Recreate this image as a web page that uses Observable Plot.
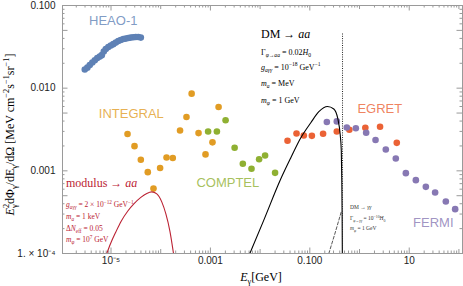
<!DOCTYPE html>
<html><head><meta charset="utf-8">
<script src="https://cdn.jsdelivr.net/npm/d3@7"></script>
<script src="https://cdn.jsdelivr.net/npm/@observablehq/plot@0.6"></script>
<style>html,body{margin:0;padding:0;background:#fff}#chart svg{display:block}</style>
</head><body><div id="chart"></div>
<script>
// ---- data (energy in GeV, flux in MeV cm^-2 s^-1 sr^-1) ----
const heaoE = [2.97e-6,3.34e-6,3.74e-6,4.21e-6,4.72e-6,5.30e-6,5.95e-6,6.53e-6,7.16e-6,7.85e-6,8.83e-6,9.91e-6,1.11e-5,1.25e-5,1.40e-5,1.57e-5,1.77e-5,1.99e-5,2.23e-5,2.50e-5,2.81e-5,3.15e-5,3.54e-5,3.98e-5];
const heaoF = [0.0168,0.0177,0.0190,0.0204,0.0218,0.0231,0.0241,0.0251,0.0277,0.0297,0.0314,0.0328,0.0341,0.0356,0.0372,0.0382,0.0393,0.0398,0.0404,0.0409,0.0413,0.0415,0.0415,0.0409];
const integralE = [2.15e-5,2.97e-5,3.98e-5,5.50e-5,7.16e-5,9.73e-5,1.31e-4,1.75e-4,2.45e-4,3.30e-4,4.19e-4,5.77e-4,7.97e-4,1.10e-3,1.46e-3];
const integralF = [2.79e-3,1.99e-3,1.36e-3,9.64e-4,6.10e-4,1.08e-3,1.45e-3,1.43e-3,3.08e-3,4.48e-3,8.58e-3,2.86e-3,1.58e-3,2.21e-3,5.91e-3];
const comptelE = [8.99e-4,1.35e-3,2.02e-3,3.07e-3,4.49e-3,6.71e-3,9.55e-3,1.26e-2,2.00e-2];
const comptelF = [2.99e-3,2.99e-3,4.09e-3,1.90e-3,1.22e-3,1.06e-3,1.38e-3,1.53e-3,9.46e-4];
const egretE = [3.56e-2,5.40e-2,7.57e-2,0.110,0.185,0.349,0.624,1.31,2.59,5.62];
const egretF = [2.31e-3,2.83e-3,2.68e-3,2.65e-3,2.81e-3,2.99e-3,3.14e-3,3.32e-3,3.41e-3,2.18e-3];
const fermiE = [0.220,0.349,0.555,0.843,1.36,2.10,3.38,5.37,8.55,13.6,21.6,33.2,54.5,84.0];
const fermiF = [3.89e-3,3.96e-3,3.35e-3,3.27e-3,2.89e-3,2.36e-3,1.81e-3,1.41e-3,9.38e-4,7.71e-4,6.40e-4,5.46e-4,4.25e-4,3.44e-4];

const modulusE = [8.22e-6,9.91e-6,1.25e-5,1.57e-5,2.18e-5,2.88e-5,3.98e-5,5.25e-5,6.62e-5,8.35e-5,1.05e-4,1.27e-4,1.53e-4,1.81e-4];
const modulusF = [1.0e-4,1.34e-4,1.82e-4,2.41e-4,3.27e-4,3.98e-4,4.77e-4,5.33e-4,5.56e-4,5.26e-4,4.21e-4,3.01e-4,1.87e-4,1.0e-4];
const dmE = [6.21e-3,1.17e-2,2.61e-2,4.15e-2,6.59e-2,0.1047,0.152,0.227,0.304,0.366,0.407,0.430,0.440,0.447,0.451];
const dmF = [1.0e-4,2.48e-4,8.00e-4,1.44e-3,2.51e-3,3.82e-3,5.19e-3,6.01e-3,5.60e-3,4.27e-3,2.81e-3,1.75e-3,7.57e-4,2.85e-4,1.0e-4];
const gammaE = [0.241,0.318,0.430];
const gammaF = [1.0e-4,1.72e-4,3.2e-4];
const gammaLineE = [0.455];
const gammaLineTop = [0.0458];

const labelNames = ["HEAO-1","INTEGRAL","COMPTEL","EGRET","FERMI"];
const labelE = [1.11e-5,2.56e-5,2.24e-3,2.56,30.5];
const labelF = [0.0658,4.91e-3,7.16e-4,5.65e-3,2.34e-4];

const yTickValues = [1e-4,5e-4,1e-3,5e-3,1e-2,5e-2,1e-1];
const yTickLabels = ["1. \u00d7 10\u207b\u2074","5. \u00d7 10\u207b\u2074","0.001","0.005","0.010","0.050","0.100"];
const xTickValues = [1e-5,1e-3,1e-1,10];
const xTickLabels = ["10\u207b\u2075","0.001","0.100","10"];

// ---- styles ----
const C = {blue:"#5E81B5", orange:"#E19C24", green:"#8FB032", red:"#EB6235", purple:"#8778B3"};
const labelColors = [C.blue, C.orange, C.green, C.red, C.purple];
const curveRed = "#bb2233";
const frameGray = "#9a9a9a";
const W = 463, H = 286, mL = 62, mR = 1, mT = 5, mB = 33;
const FH = H - mT - mB, FW = W - mL - mR;

// tick positions
const xDecades = [1e-4,1e-2,1,100];
const xMinor = [], yMinor = [];
for (let k = -6; k <= 2; k++) for (let m = 2; m <= 9; m++) xMinor.push(m * 10 ** k);
for (let k = -4; k <= -2; k++) for (let m = 2; m <= 9; m++) if (m !== 5) yMinor.push(m * 10 ** k);
const xDom = [10 ** -5.976, 10 ** 2.072];
const xMinorIn = xMinor.filter(v => v > xDom[0] && v < xDom[1]);

const pts = (E, F) => E.map((e, i) => ({e, f: F[i]}));
const xMap = new Map(xTickValues.map((v, i) => [v, xTickLabels[i]]));
const yMap = new Map(yTickValues.map((v, i) => [v, yTickLabels[i]]));

const tickB = (vals, len) => Plot.tickX(vals, {x: d => d, insetTop: FH - len, stroke: frameGray});
const tickT = (vals, len) => Plot.tickX(vals, {x: d => d, insetBottom: FH - len, stroke: frameGray});
const tickL = (vals, len) => Plot.tickY(vals, {y: d => d, insetRight: FW - len, stroke: frameGray});
const tickR = (vals, len) => Plot.tickY(vals, {y: d => d, insetLeft: FW - len, stroke: frameGray});

const chart = Plot.plot({
  width: W, height: H, marginLeft: mL, marginRight: mR, marginTop: mT, marginBottom: mB,
  style: {fontFamily: "'Liberation Sans', Arial, sans-serif", fontSize: "10px", color: "#222", background: "#fff"},
  x: {type: "log", domain: xDom, label: null},
  y: {type: "log", domain: [1e-4, 0.1], label: null},
  marks: [
    tickB(xMinorIn, 2.5), tickT(xMinorIn, 2.5), tickB(xDecades, 4), tickT(xDecades, 4), tickB(xTickValues, 5.5), tickT(xTickValues, 5.5),
    tickL(yMinor, 2.5), tickR(yMinor, 2.5), tickL(yTickValues, 5.5), tickR(yTickValues, 5.5),
    Plot.frame({stroke: frameGray}),
    Plot.axisX(xTickValues, {tickSize: 0, tickPadding: 3, tickFormat: d => xMap.get(d), fontSize: 10, label: null}),
    Plot.axisY(yTickValues, {tickSize: 0, tickPadding: 7, tickFormat: d => yMap.get(d), fontSize: 10, label: null}),
    Plot.dot(pts(heaoE, heaoF), {x: "e", y: "f", r: 3.3, fill: C.blue}),
    Plot.dot(pts(integralE, integralF), {x: "e", y: "f", r: 3.3, fill: C.orange}),
    Plot.dot(pts(comptelE, comptelF), {x: "e", y: "f", r: 3.3, fill: C.green}),
    Plot.dot(pts(egretE, egretF), {x: "e", y: "f", r: 3.3, fill: C.red}),
    Plot.dot(pts(fermiE, fermiF), {x: "e", y: "f", r: 3.3, fill: C.purple}),
    Plot.line(pts(modulusE, modulusF), {x: "e", y: "f", stroke: curveRed, strokeWidth: 1.1, curve: "monotone-x", clip: true}),
    Plot.line(pts(dmE, dmF), {x: "e", y: "f", stroke: "#000", strokeWidth: 1.1, curve: "monotone-x", clip: true}),
    Plot.line(pts(gammaE, gammaF), {x: "e", y: "f", stroke: "#444", strokeWidth: 0.9, strokeDasharray: "3,2", clip: true}),
    Plot.ruleX(gammaLineE, {x: d => d, y1: 1e-4, y2: (d, i) => gammaLineTop[i], stroke: "#222", strokeWidth: 1, strokeDasharray: "1,1.3"}),
    Plot.text(labelNames, {x: (d, i) => labelE[i], y: (d, i) => labelF[i], text: d => d, fill: (d, i) => labelColors[i], fillOpacity: 0.8, fontSize: 13, fontFamily: "'Liberation Sans', Arial, sans-serif"})
  ]
});
document.getElementById("chart").appendChild(chart);

// ---- rich text (sub/superscripts, italics) ----
function rich(sel, markup, o) {
  const size = o.size, small = size * 0.7;
  const text = sel.append("text")
    .attr("font-family", "'Liberation Serif', 'Times New Roman', serif")
    .attr("font-size", size).attr("fill", o.fill || "#000")
    .attr("text-anchor", o.anchor || "start")
    .attr("transform", `translate(${o.x},${o.y})` + (o.rotate ? ` rotate(${o.rotate})` : ""));
  const runs = [];
  let italic = false, mode = "", buf = "";
  const push = () => { if (buf) runs.push({t: buf, italic, mode}); buf = ""; };
  for (let i = 0; i < markup.length; i++) {
    const c = markup[i];
    if (c === "*") { push(); italic = !italic; continue; }
    if ((c === "_" || c === "^") && markup[i + 1] === "{") { push(); mode = c; i++; continue; }
    if (c === "}" && mode) { push(); mode = ""; continue; }
    buf += c;
  }
  push();
  let cur = 0, subW = 0, supW = 0, prevMode = "", stacked = false;
  runs.forEach(r => {
    const target = r.mode === "_" ? size * 0.28 : r.mode === "^" ? -size * 0.38 : 0;
    const ts = text.append("tspan").text(r.t)
      .attr("font-style", r.italic ? "italic" : "normal")
      .attr("font-size", r.mode ? small : size)
      .attr("dy", target - cur);
    cur = target;
    if (r.mode === "^" && prevMode === "_") { ts.attr("dx", -subW); stacked = true; supW = 0; }
    if (r.mode === "" && stacked) { const extra = subW - supW; if (extra > 0) ts.attr("dx", extra); stacked = false; }
    const w = ts.node().getComputedTextLength();
    if (r.mode === "_") { subW = prevMode === "_" ? subW + w : w; }
    if (r.mode === "^" && stacked) supW += w;
    prevMode = r.mode;
  });
}
const svg = d3.select(chart);
const g = svg.append("g");
rich(g, "*E*_{γ}^{2}dΦ_{γ}/dE_{γ}/dΩ [MeV cm^{−2}s^{−1}sr^{−1}]", {x: 14, y: 134.5, size: 12, anchor: "middle", rotate: -90});
rich(g, "*E*_{γ}[GeV]", {x: 261, y: 281, size: 12, anchor: "middle"});

const blackBlock = [["DM → *aa*", 12, 37.5], ["Γ_{*φ*→*aa*} = 0.02*H*_{0}", 8, 54.5], ["*g*_{*aγγ*} = 10^{−18} GeV^{−1}", 8, 69.5], ["*m*_{*a*} = MeV", 8, 85.5], ["*m*_{*φ*} = 1 GeV", 8, 102.5]];
blackBlock.forEach(([t, s, y]) => rich(g, t, {x: 261, y, size: s, fill: "#000"}));
const redBlock = [["modulus → *aa*", 12, 187], ["*g*_{*aγγ*} = 2 × 10^{−12} GeV^{−1}", 7.5, 206.5], ["*m*_{*a*} = 1 keV", 7.5, 218.5], ["Δ*N*_{eff} = 0.05", 7.5, 231], ["*m*_{*φ*} = 10^{7} GeV", 7.5, 242]];
redBlock.forEach(([t, s, y]) => rich(g, t, {x: 66, y, size: s, fill: curveRed}));
const ggBlock = [["DM → *γγ*", 5.5, 208.5], ["Γ_{*φ*→*γγ*} = 10^{−10}*H*_{0}", 5.5, 220.3], ["*m*_{*φ*} = 1 GeV", 5.5, 230]];
ggBlock.forEach(([t, s, y]) => rich(g, t, {x: 350, y, size: s, fill: "#333"}));
</script>
</body></html>
